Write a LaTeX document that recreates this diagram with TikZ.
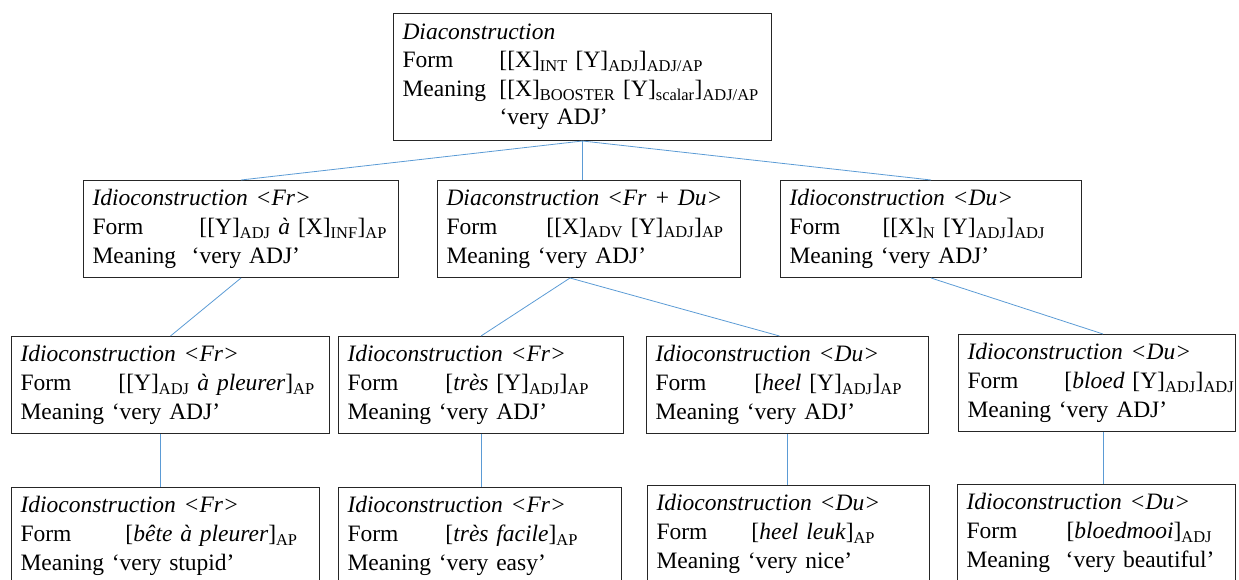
\documentclass[tikz,border=0pt]{standalone}
\usepackage{fontspec}
\setmainfont{Liberation Serif}
\usetikzlibrary{positioning}
\definecolor{linkblue}{HTML}{5B9BD5}
\newcommand{\lb}[1]{\textsubscript{#1}}
\newcommand{\cxtitle}[1]{\mbox{\itshape #1}}
\newcommand{\formrow}[2][98pt]{\mbox{\makebox[#1][l]{Form}#2}}
\newcommand{\meanrow}[1]{\mbox{Meaning #1}}
\tikzset{
  cxbox/.style={draw=black!85, line width=1pt, anchor=north west, align=left,
    inner xsep=9pt, inner ysep=0pt, minimum height=97pt,
    font=\fontsize{23.5}{29}\selectfont},
  cxlink/.style={draw=linkblue, line width=0.8pt},
}

\begin{document}
\begin{tikzpicture}[x=1pt, y=-1pt]
\useasboundingbox (0,0) rectangle (1239,580);
% top: the diaconstruction
\node[cxbox, text width=360pt, minimum height=127pt,
  font=\fontsize{23.5}{28.5}\selectfont] (dia) at (393,13)
  {\cxtitle{Diaconstruction}\\
   \formrow[97pt]{[[X]\lb{INT} [Y]\lb{ADJ}]\lb{ADJ/AP}}\\
   \mbox{\makebox[97pt][l]{Meaning}[[X]\lb{BOOSTER} [Y]\lb{scalar}]\lb{ADJ/AP}}\\
   \mbox{\hspace*{97pt}‘very ADJ’}};
% level 2
\node[cxbox, text width=297pt] (idfr) at (83,180)
  {\cxtitle{Idioconstruction <Fr>}\\
   \formrow[107pt]{[[Y]\lb{ADJ} \textit{à} [X]\lb{INF}]\lb{AP}}\\
   \meanrow{\ ‘very ADJ’}};
\node[cxbox, text width=285pt] (diafrdu) at (437,180)
  {\cxtitle{Diaconstruction <Fr + Du>}\\
   \formrow[100pt]{[[X]\lb{ADV} [Y]\lb{ADJ}]\lb{AP}}\\
   \meanrow{‘very ADJ’}};
\node[cxbox, text width=283pt] (iddu) at (780,180)
  {\cxtitle{Idioconstruction <Du>}\\
   \formrow[93pt]{[[X]\lb{N} [Y]\lb{ADJ}]\lb{ADJ}}\\
   \meanrow{‘very ADJ’}};
% level 3
\node[cxbox, text width=300pt] (fradj) at (11,336)
  {\cxtitle{Idioconstruction <Fr>}\\
   \formrow[98pt]{[[Y]\lb{ADJ} \textit{à pleurer}]\lb{AP}}\\
   \meanrow{‘very ADJ’}};
\node[cxbox, text width=267pt] (frtres) at (338,336)
  {\cxtitle{Idioconstruction <Fr>}\\
   \formrow[98pt]{[\textit{très} [Y]\lb{ADJ}]\lb{AP}}\\
   \meanrow{‘very ADJ’}};
\node[cxbox, text width=264pt] (duheel) at (646,336)
  {\cxtitle{Idioconstruction <Du>}\\
   \formrow[99pt]{[\textit{heel} [Y]\lb{ADJ}]\lb{AP}}\\
   \meanrow{‘very ADJ’}};
\node[cxbox, text width=259pt] (dubloed) at (958,334)
  {\cxtitle{Idioconstruction <Du>}\\
   \formrow[97pt]{[\textit{bloed} [Y]\lb{ADJ}]\lb{ADJ}}\\
   \meanrow{‘very ADJ’}};
% level 4: the single idioms
\node[cxbox, text width=290pt] (frbete) at (11,487)
  {\cxtitle{Idioconstruction <Fr>}\\
   \formrow[105pt]{[\textit{bête à pleurer}]\lb{AP}}\\
   \meanrow{‘very stupid’}};
\node[cxbox, text width=265pt] (frfacile) at (338,487)
  {\cxtitle{Idioconstruction <Fr>}\\
   \formrow[98pt]{[\textit{très facile}]\lb{AP}}\\
   \meanrow{‘very easy’}};
\node[cxbox, text width=264pt] (duleuk) at (647,485)
  {\cxtitle{Idioconstruction <Du>}\\
   \formrow[95pt]{[\textit{heel leuk}]\lb{AP}}\\
   \meanrow{‘very nice’}};
\node[cxbox, text width=260pt] (dumooi) at (957,484)
  {\cxtitle{Idioconstruction <Du>}\\
   \formrow[100pt]{[\textit{bloedmooi}]\lb{ADJ}}\\
   \meanrow{\ ‘very beautiful’}};
% links
\draw[cxlink] (dia.south) -- (idfr.north);
\draw[cxlink] (dia.south) -- (dia.south |- diafrdu.north);
\draw[cxlink] (dia.south) -- (iddu.north);
\draw[cxlink] (idfr.south) -- (fradj.north);
\draw[cxlink] ([xshift=-19pt]diafrdu.south) -- (frtres.north);
\draw[cxlink] ([xshift=-19pt]diafrdu.south) -- ([xshift=-8pt]duheel.north);
\draw[cxlink] (iddu.south) -- ([xshift=6pt]dubloed.north);
\draw[cxlink] ([xshift=-10pt]fradj.south) -- ([xshift=-10pt]fradj.south |- frbete.north);
\draw[cxlink] (frtres.south) -- (frtres.south |- frfacile.north);
\draw[cxlink] (duheel.south) -- (duheel.south |- duleuk.north);
\draw[cxlink] ([xshift=6pt]dubloed.south) -- ([xshift=6pt]dubloed.south |- dumooi.north);
\end{tikzpicture}
\end{document}
